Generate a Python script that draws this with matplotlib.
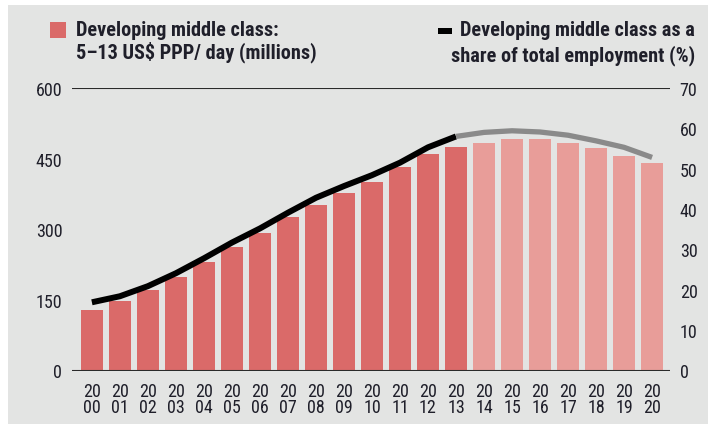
import matplotlib
matplotlib.use("Agg")
import matplotlib.pyplot as plt
from matplotlib.patches import Rectangle
from matplotlib import font_manager as fm

years = [str(y) for y in range(2000, 2021)]
middle_class_millions = [128, 147, 171, 198, 230, 262, 293, 325, 352, 376, 400,
                         432, 459, 475, 483, 491, 491, 484, 472, 456, 440]
share_pct = [16.9, 18.4, 20.9, 24.1, 27.8, 31.7, 35.2, 39.1, 42.8, 45.7, 48.4,
             51.5, 55.3, 58.0, 59.0, 59.4, 59.1, 58.3, 56.9, 55.3, 52.8]
last_actual = "2013"
left_ticks = [0, 150, 300, 450, 600]
right_ticks = [0, 10, 20, 30, 40, 50, 60, 70]
legend_left = "Developing middle class:\n5\u201313 US$ PPP/ day (millions)"
legend_right_lines = ["Developing middle class as a", "share of total employment (%)"]

installed = {f.name for f in fm.fontManager.ttflist}
prefs = ["Roboto Condensed", "PT Sans Narrow", "Archivo Narrow", "Fira Sans Condensed",
         "Barlow Semi Condensed", "Asap Condensed", "Liberation Sans Narrow"]
cond = [p for p in prefs if p in installed]
FONT = cond[:1] + ["DejaVu Sans"]
plt.rcParams["font.family"] = FONT
TXT = "#1f1f2a"
BG = "#e3e4e3"
DARK = "#da6a69"
LIGHT = "#e89d99"

W, H = 708, 427
fig = plt.figure(figsize=(W / 100, H / 100), dpi=100, facecolor="white")
fig.patches.append(Rectangle((8 / W, 2 / H), 1 - 8 / W, (H - 8) / H,
                             transform=fig.transFigure, facecolor=BG,
                             edgecolor="none", zorder=-5))

ax = fig.add_axes([72 / W, (H - 371.5) / H, (670 - 72) / W, (371.5 - 89) / H])
ax.set_facecolor("none")
x = list(range(len(years)))
idx = years.index(last_actual)
colors = [DARK if i <= idx else LIGHT for i in x]
ax.bar(x, middle_class_millions, width=0.76, color=colors, zorder=2)
ax.set_xlim(-0.71, len(years) - 1 + 0.64)
ax.set_ylim(0, 600)
ax.set_yticks(left_ticks)
ax.set_xticks(x)
ax.set_xticklabels([y[:2] + "\n" + y[2:] for y in years], linespacing=0.92)
for s in ax.spines.values():
    s.set_visible(False)
ax.axhline(600, color="#2a2a2a", lw=1.5, zorder=3)
ax.axhline(0, color="#2a2a2a", lw=1.5, zorder=3)
ax.tick_params(axis="both", length=0, labelsize=13, colors=TXT)
ax.tick_params(axis="y", pad=7)
ax.tick_params(axis="x", pad=8)

ax2 = ax.twinx()
ax2.set_ylim(0, 70)
ax2.set_yticks(right_ticks)
for s in ax2.spines.values():
    s.set_visible(False)
ax2.tick_params(axis="y", length=0, labelsize=13, colors=TXT, pad=7)
ax2.plot(x[:idx + 1], share_pct[:idx + 1], color="black", lw=4.3,
         solid_capstyle="butt", solid_joinstyle="round", zorder=4)
ax2.plot(x[idx:], share_pct[idx:], color="#8a8a8a", lw=3.8,
         solid_capstyle="butt", solid_joinstyle="round", zorder=4)

# legend
FS = 14.6
fig.patches.append(Rectangle((50 / W, 1 - 39 / H), 16 / W, 16 / H,
                             transform=fig.transFigure, facecolor=DARK,
                             edgecolor="none"))
fig.text(76 / W, 1 - 21 / H, legend_left, ha="left", va="top", fontsize=FS,
         fontweight="bold", color=TXT, linespacing=1.1)
t1 = fig.text(695 / W, 1 - 21 / H, legend_right_lines[0], ha="right", va="top",
              fontsize=FS, fontweight="bold", color=TXT)
fig.text(695 / W, 1 - 45 / H, legend_right_lines[1], ha="right", va="top",
         fontsize=FS, fontweight="bold", color=TXT)
fig.canvas.draw()
bb = t1.get_window_extent()
left_px = bb.x0
fig.patches.append(Rectangle(((left_px - 22) / W, 1 - 35 / H), 14 / W, 6 / H,
                             transform=fig.transFigure, facecolor="black",
                             edgecolor="none"))

fig.savefig("out.png", dpi=100, facecolor="white")
